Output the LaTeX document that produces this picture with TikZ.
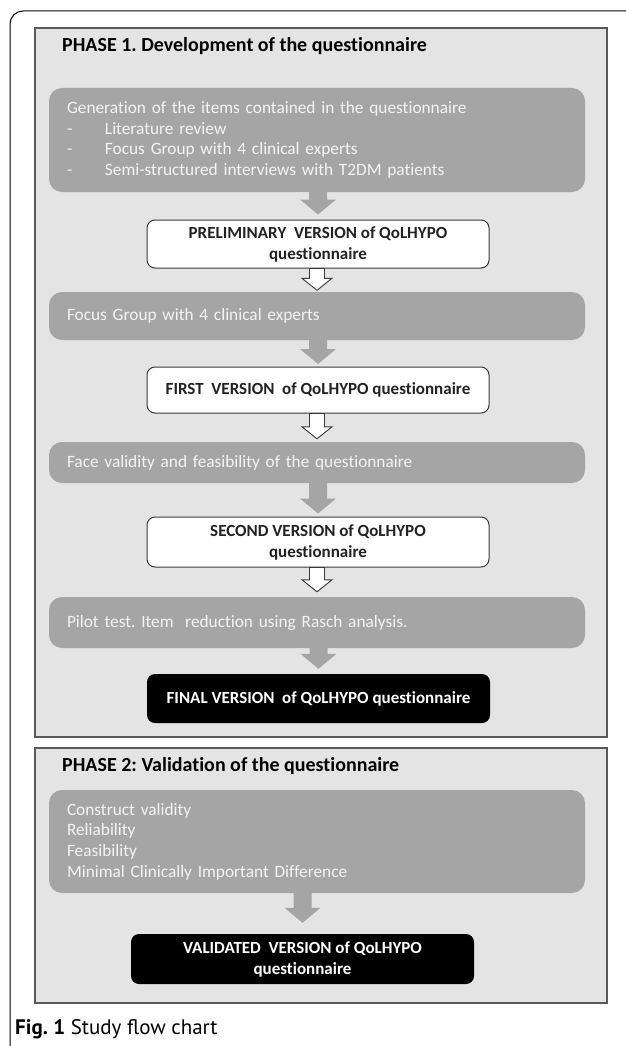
\documentclass[tikz,border=0pt]{standalone}
\usepackage{fontspec}
\setmainfont{Carlito}[Ligatures=NoCommon]
\newfontfamily\capfont{PT Sans}
\usetikzlibrary{calc}
\frenchspacing
\definecolor{phasefill}{HTML}{E4E4E4}
\definecolor{phaseborder}{HTML}{595959}
\definecolor{boxgray}{HTML}{A5A5A5}
\definecolor{boxtext}{HTML}{F4F4F4}
\definecolor{boxborder}{HTML}{3A3A3A}
\definecolor{textdark}{HTML}{222222}
\newcommand\bkarrow[7]{%
  \path[#1] let \p1=(#2.south), \p2=(#3.north) in
    (\x2-#4pt,\y1) -- (\x2-#4pt,\y2+#7pt+#6pt) -- (\x2-#5pt,\y2+#7pt+#6pt)
    -- (\x2,\y2+#7pt) -- (\x2+#5pt,\y2+#7pt+#6pt) -- (\x2+#4pt,\y2+#7pt+#6pt)
    -- (\x2+#4pt,\y1) -- cycle;}
\newcommand\dashitem[1]{\makebox[38pt][l]{-}#1}
\begin{document}
\frenchspacing
\begin{tikzpicture}[x=1pt,y=-1pt,
  phase/.style={draw=phaseborder, line width=1.5pt, fill=phasefill, minimum width=572pt, inner sep=0pt},
  phasetitle/.style={anchor=base west, inner sep=0pt, text=black, font=\bfseries\fontsize{20}{24}\selectfont},
  graybox/.style={fill=boxgray, rounded corners=13pt, text=boxtext, align=left, text width=500pt,
    inner xsep=18pt, inner ysep=0pt, font=\fontsize{17.3}{20.7}\selectfont},
  whitebox/.style={draw=boxborder, line width=1pt, fill=white, rounded corners=8pt, minimum width=342pt,
    inner sep=0pt, align=center, text=textdark, font=\bfseries\fontsize{17}{21}\selectfont},
  blackbox/.style={fill=black, rounded corners=8pt, minimum width=343pt,
    inner sep=0pt, align=center, text=white, font=\bfseries\fontsize{17}{21}\selectfont},
  grayarrow/.style={fill=boxgray},
  whitearrow/.style={fill=white, draw=boxborder, line width=0.9pt, line join=miter},
  frameline/.style={draw=black, line width=1pt, rounded corners=13pt}
]
\useasboundingbox (0,0) rectangle (625,1046);
\fill[white] (0,0) rectangle (625,1046);
\draw[frameline] (10,1047) -- (10,11) -- (626,11);

% Phase 1
\node[phase, minimum height=709pt] (ph1) at (321,382.5) {};
\node[phasetitle] (t1) at (62,51.5) {PHASE 1. Development of the questionnaire};
\node[graybox, minimum height=104pt] (g1) at (317,140) {Generation of the items contained in the\ questionnaire\\
\dashitem{Literature review}\\
\dashitem{Focus Group with 4 clinical experts}\\
\dashitem{Semi-structured interviews with T2DM patients}};
\node[whitebox, minimum height=48pt] (p1) at (318,244) {PRELIMINARY\ \ VERSION of QoLHYPO\\questionnaire};
\node[graybox, minimum height=48pt] (g2) at (317,316) {Focus Group with 4 clinical experts};
\node[whitebox, minimum height=46pt] (f1) at (318,390) {FIRST\ \ VERSION\ \ of QoLHYPO questionnaire};
\node[graybox, minimum height=41pt] (g3) at (317,462.5) {Face validity and feasibility of the\ questionnaire};
\node[whitebox, minimum height=50pt] (s1) at (318,542) {SECOND VERSION of QoLHYPO\\questionnaire};
\node[graybox, minimum height=51pt] (g4) at (317,622.5) {Pilot test. Item\ \ reduction using Rasch analysis.};
\node[blackbox, minimum height=49pt] (fin) at (318.5,698.5) {FINAL VERSION\ \ of QoLHYPO questionnaire};

\bkarrow{grayarrow}{g1}{p1}{9}{18}{15}{5}
\bkarrow{whitearrow}{p1}{g2}{7.5}{15}{12}{1.5}
\bkarrow{grayarrow}{g2}{f1}{9}{18}{15}{2.5}
\bkarrow{whitearrow}{f1}{g3}{7.5}{15}{12}{3}
\bkarrow{grayarrow}{g3}{s1}{9}{18}{15}{3}
\bkarrow{whitearrow}{s1}{g4}{7.5}{15}{12}{5}
\bkarrow{grayarrow}{g4}{fin}{9}{18}{15}{5}

% Phase 2
\node[phase, minimum height=255pt] (ph2) at (321,875.5) {};
\node[phasetitle] (t2) at (62,771.5) {PHASE 2: Validation of the questionnaire};
\node[graybox, minimum height=103pt] (g5) at (317,841.5) {Construct validity\\Reliability\\Feasibility\\Minimal Clinically Important Difference};
\node[blackbox, minimum height=50pt] (val) at (302.5,959) {VALIDATED\ \ VERSION of QoLHYPO\\questionnaire};
\bkarrow{grayarrow}{g5}{val}{9}{18}{15}{11}

% Caption
\node[anchor=base west, inner sep=0pt, font=\capfont\fontsize{21}{24}\selectfont] (cap) at (15,1034) {\textbf{Fig. 1} Study flow chart};
\end{tikzpicture}
\end{document}
